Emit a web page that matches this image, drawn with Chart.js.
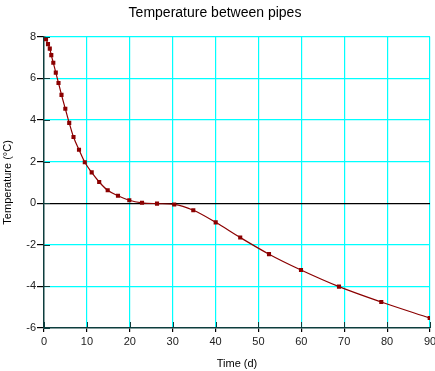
<!DOCTYPE html>
<html>
<head>
<meta charset="utf-8">
<script src="https://cdn.jsdelivr.net/npm/chart.js@4"></script>
<style>
html,body{margin:0;padding:0;background:#fff;}
#wrap{width:435px;height:371px;position:relative;}
</style>
</head>
<body>
<div id="wrap"><canvas id="c" width="435" height="371"></canvas></div>
<script>
const timeDays = [0, 0.47, 0.93, 1.35, 1.7, 2.17, 2.75, 3.38, 4.08, 4.97, 5.88, 6.88, 8.16, 9.51, 11.12, 12.87, 14.85, 17.25, 19.89, 22.85, 26.35, 30.36, 34.81, 40.03, 45.75, 52.46, 59.92, 68.78, 78.64, 89.93];
const temperature = [8.0, 7.88, 7.65, 7.43, 7.12, 6.75, 6.28, 5.78, 5.21, 4.54, 3.86, 3.18, 2.57, 1.97, 1.48, 1.02, 0.62, 0.36, 0.14, 0.02, -0.02, -0.06, -0.34, -0.92, -1.65, -2.45, -3.21, -4.01, -4.75, -5.52];
const xTicks = [0, 10, 20, 30, 40, 50, 60, 70, 80, 90];
const yTicks = [-6, -4, -2, 0, 2, 4, 6, 8];
const titleText = 'Temperature between pipes';
const xTitle = 'Time (d)';
const yTitle = 'Temperature (°C)';

const FONT = 'Liberation Sans, Arial, sans-serif';
const AXIS_COLOR = '#0d3d3d';

const innerTicks = {
  id: 'innerTicks',
  afterDatasetsDraw(chart) {
    const ctx = chart.ctx, a = chart.chartArea;
    const xs = chart.scales.x, ys = chart.scales.y;
    ctx.save();
    ctx.lineWidth = 1;
    ctx.strokeStyle = AXIS_COLOR;
    ctx.beginPath();
    yTicks.forEach(v => {
      const py = Math.round(ys.getPixelForValue(v)) + 0.5;
      ctx.moveTo(a.left, py); ctx.lineTo(a.left + 6, py);
    });
    xTicks.forEach(v => {
      const px = Math.round(xs.getPixelForValue(v)) + 0.5;
      ctx.moveTo(px, a.bottom); ctx.lineTo(px, a.bottom - 6);
    });
    ctx.stroke();
    ctx.restore();
  }
};

new Chart(document.getElementById('c'), {
  type: 'line',
  data: {
    datasets: [{
      data: timeDays.map((t, i) => ({x: t, y: temperature[i]})),
      borderColor: '#8b0000',
      backgroundColor: '#8b0000',
      borderWidth: 1.2,
      pointStyle: 'rect',
      pointRadius: 2.9,
      pointHoverRadius: 2.9,
      pointBorderWidth: 0,
      cubicInterpolationMode: 'monotone',
      fill: false
    }]
  },
  options: {
    responsive: false,
    animation: false,
    events: [],
    layout: { padding: { left: 0, right: 5, top: 0, bottom: 0 } },
    plugins: {
      legend: { display: false },
      tooltip: { enabled: false },
      title: {
        display: true,
        text: titleText,
        color: '#000',
        font: { family: FONT, size: 14, weight: 'normal' },
        padding: { top: 5, bottom: 15 }
      }
    },
    scales: {
      x: {
        type: 'linear',
        min: 0, max: 90,
        afterBuildTicks(s) { s.ticks = xTicks.map(v => ({value: v})); },
        afterFit(s) { s.paddingRight = 0; s.paddingLeft = 0; s.height = 43; },
        ticks: {
          color: '#222',
          font: { family: FONT, size: 11 },
          padding: 3,
          maxRotation: 0
        },
        grid: {
          color: (c) => c.tick && c.tick.value === 0 ? 'rgba(0,0,0,0)' : '#00ffff',
          tickColor: '#000',
          tickLength: 4,
          lineWidth: 1.2
        },
        border: { color: AXIS_COLOR, width: 1.5 },
        title: {
          display: true,
          text: xTitle,
          color: '#000',
          font: { family: FONT, size: 11 },
          padding: { top: 4, bottom: 0 }
        }
      },
      y: {
        type: 'linear',
        min: -6, max: 8,
        afterBuildTicks(s) { s.ticks = yTicks.map(v => ({value: v})); },
        afterFit(s) { s.width = 44; s.paddingTop = 0; s.paddingBottom = 0; },
        ticks: {
          color: '#222',
          font: { family: FONT, size: 11 },
          padding: 1
        },
        grid: {
          color: (c) => c.tick && c.tick.value === 0 ? '#000' : (c.tick && c.tick.value === -6 ? 'rgba(0,0,0,0)' : '#00ffff'),
          tickColor: '#000',
          tickLength: 7,
          lineWidth: 1.2
        },
        border: { color: AXIS_COLOR, width: 1.5 },
        title: {
          display: true,
          text: yTitle,
          color: '#000',
          font: { family: FONT, size: 11 },
          padding: { top: 1, bottom: 0 }
        }
      }
    }
  },
  plugins: [innerTicks]
});
</script>
</body>
</html>
